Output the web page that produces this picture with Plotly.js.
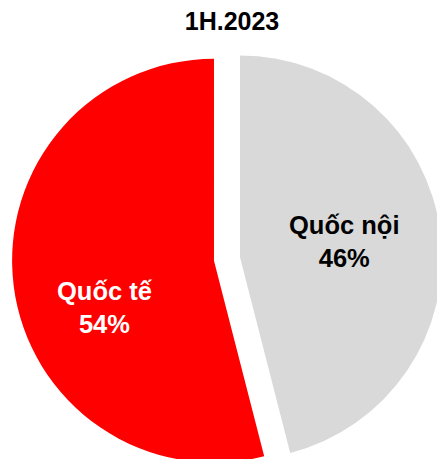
<!DOCTYPE html>
<html>
<head>
<meta charset="utf-8">
<script src="https://cdn.plot.ly/plotly-3.0.1.min.js"></script>
<style>
html, body { margin: 0; padding: 0; overflow: hidden; background: #fff; }
#chart { width: 445px; height: 480px; }
</style>
</head>
<body>
<div id="chart"></div>
<script>
const chartTitle = '1H.2023';
const labels = ['Quốc nội', 'Quốc tế'];
const values = [46, 54];
const colors = ['#D9D9D9', '#FF0000'];
const textColors = ['#000000', '#FFFFFF'];

const W = 445, H = 480;
const M = {l: 12, r: 3, t: 44, b: 6};
const pw = W - M.l - M.r, ph = H - M.t - M.b;
function px2x(px) { return (px - M.l) / pw; }
function py2y(py) { return 1 - (py - M.t) / ph; }

const total = values.reduce((a, b) => a + b, 0);
const labelPos = [[344, 241], [105, 307]];
const annotations = labels.map((lab, i) => ({
  text: lab + '<br>' + Math.round(values[i] / total * 100) + '%',
  xref: 'paper', yref: 'paper',
  x: px2x(labelPos[i][0]), y: py2y(labelPos[i][1]),
  xanchor: 'center', yanchor: 'middle',
  showarrow: false,
  font: {family: 'Liberation Sans, Arial, sans-serif', size: 25.5, color: textColors[i], weight: 'bold'}
}));

const trace = {
  type: 'pie',
  labels: labels,
  values: values,
  sort: false,
  direction: 'clockwise',
  rotation: 0,
  pull: [0.065, 0.065],
  marker: {colors: colors, line: {width: 0}},
  textinfo: 'none',
  hoverinfo: 'skip',
  showlegend: false
};

const layout = {
  width: W, height: H,
  margin: M,
  paper_bgcolor: '#fff',
  title: {
    text: chartTitle,
    x: 232 / W, xanchor: 'center', xref: 'container',
    y: 1 - 21.5 / H, yanchor: 'middle', yref: 'container',
    font: {family: 'Liberation Sans, Arial, sans-serif', size: 25, color: '#000', weight: 'bold'}
  },
  annotations: annotations,
  showlegend: false
};

Plotly.newPlot('chart', [trace], layout, {displayModeBar: false, staticPlot: true});
</script>
</body>
</html>
